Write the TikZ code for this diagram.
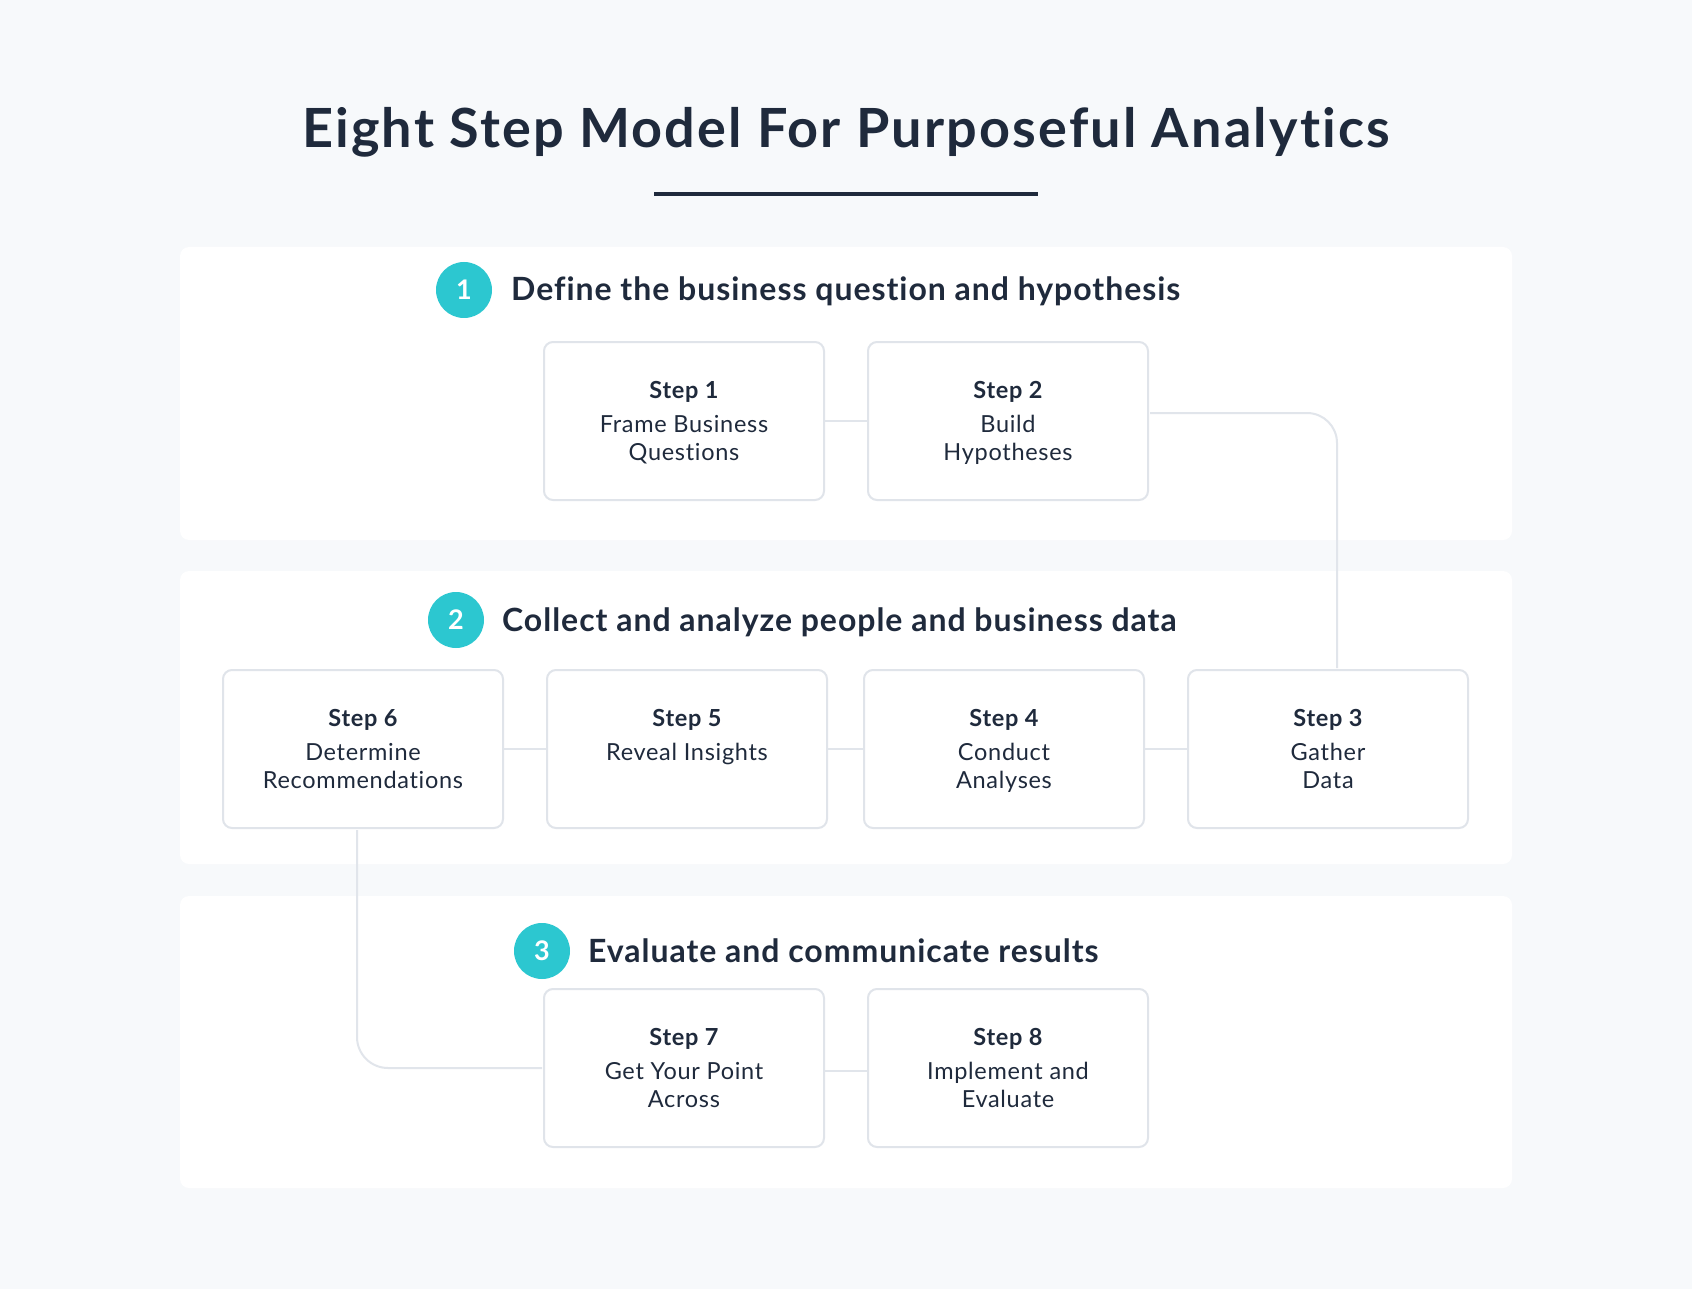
\documentclass[tikz,border=0pt]{standalone}
\usepackage{fontspec}
\setmainfont{Lato}[Ligatures=NoCommon]
\newfontfamily\titlefont{Lato}[LetterSpace=4,Ligatures=NoCommon]
\newfontfamily\headfont{Lato}[LetterSpace=3,Ligatures=NoCommon]
\newfontfamily\boxfont{Lato}[LetterSpace=3,Ligatures=NoCommon]
\usetikzlibrary{calc}
\definecolor{bgc}{HTML}{F7F9FB}
\definecolor{ink}{HTML}{1F2A3C}
\definecolor{teal}{HTML}{2CC7D0}
\definecolor{linec}{HTML}{E1E5EB}
\definecolor{boxc}{HTML}{E0E4EA}
\newcommand{\steplabel}[2]{%
  \begin{minipage}[c][158pt][t]{280pt}\centering
  \boxfont\fontsize{23.5pt}{28pt}\selectfont
  \rule{0pt}{56pt}{\bfseries #1}\\[6pt]#2\end{minipage}}
\tikzset{
  panel/.style={fill=white, rounded corners=9pt},
  stepbox/.style={draw=boxc, line width=2pt, fill=white, rounded corners=9pt,
    inner sep=0pt, text=ink},
  numcirc/.style={circle, fill=teal, minimum size=56pt, inner sep=0pt,
    text=white, font=\fontsize{27pt}{30pt}\selectfont\bfseries},
  heading/.style={anchor=base west, text=ink, inner sep=0pt,
    font=\headfont\fontsize{32pt}{36pt}\selectfont\bfseries},
  conn/.style={draw=linec, line width=2pt},
}
\begin{document}
\begin{tikzpicture}[x=1pt,y=-1pt]
\useasboundingbox (0,0) rectangle (1692,1289);
\fill[bgc] (0,0) rectangle (1692,1289);

% title
\node[anchor=base, text=ink, inner sep=0pt, font=\titlefont\fontsize{54pt}{60pt}\selectfont\bfseries] (title) at (846,148) {Eight Step Model For Purposeful Analytics};
\coordinate (ul1) at (654,194);
\coordinate (ul2) at (1038,194);
\draw[ink, line width=4.5pt] (ul1) -- (ul2);

% panels
\fill[panel] (180,247) rectangle (1512,540);
\fill[panel] (180,571) rectangle (1512,864);
\fill[panel] (180,896) rectangle (1512,1188);

% headings
\node[numcirc] (c1) at (464,290) {1};
\node[heading] (h1) at (511,301) {Define the business question and hypothesis};
\node[numcirc] (c2) at (456,620) {2};
\node[heading] (h2) at (502,631) {Collect and analyze people and business data};
\node[numcirc] (c3) at (542,951) {3};
\node[heading] (h3) at (588,962) {Evaluate and communicate results};

% box centres
\coordinate (s1c) at (684,421);
\coordinate (s2c) at (1008,421);
\coordinate (s3c) at (1328,749);
\coordinate (s4c) at (1004,749);
\coordinate (s5c) at (687,749);
\coordinate (s6c) at (363,749);
\coordinate (s7c) at (684,1068);
\coordinate (s8c) at (1008,1068);

% step boxes
\node[stepbox] (s1) at (s1c) {\steplabel{Step 1}{Frame Business\\Questions}};
\node[stepbox] (s2) at (s2c) {\steplabel{Step 2}{Build\\Hypotheses}};
\node[stepbox] (s3) at (s3c) {\steplabel{Step 3}{Gather\\Data}};
\node[stepbox] (s4) at (s4c) {\steplabel{Step 4}{Conduct\\Analyses}};
\node[stepbox] (s5) at (s5c) {\steplabel{Step 5}{Reveal Insights}};
\node[stepbox] (s6) at (s6c) {\steplabel{Step 6}{Determine\\Recommendations}};
\node[stepbox] (s7) at (s7c) {\steplabel{Step 7}{Get Your Point\\Across}};
\node[stepbox] (s8) at (s8c) {\steplabel{Step 8}{Implement and\\Evaluate}};

% connectors
\draw[conn] (s1.east) -- (s2.west);
\draw[conn, rounded corners=30pt] ($(s2.east)+(1,-8)$) -| ($(s3.north)+(9,-1)$);
\draw[conn] (s4.east) -- (s3.west);
\draw[conn] (s5.east) -- (s4.west);
\draw[conn] (s6.east) -- (s5.west);
\draw[conn, rounded corners=31pt] ($(s6.south)+(-6,1)$) |- ($(s7.west)+(-1,0)$);
\draw[conn] ($(s7.east)+(0,3)$) -- ($(s8.west)+(0,3)$);
\end{tikzpicture}
\end{document}
